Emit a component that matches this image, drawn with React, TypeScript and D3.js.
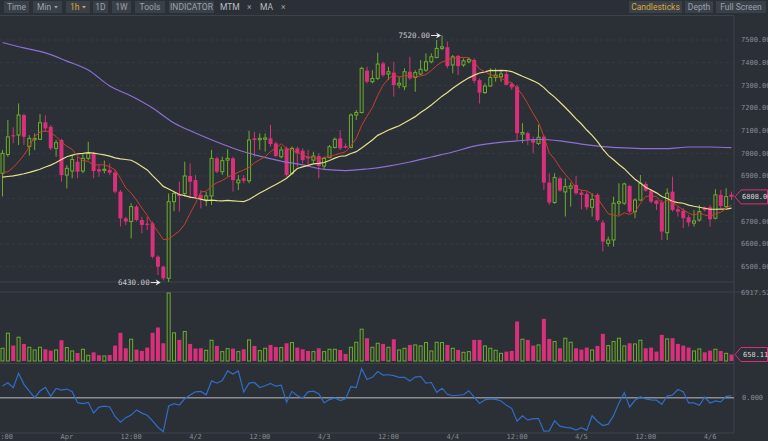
import React from 'react';
import * as d3 from 'd3';

const opens = [6912,6995,7080,7081,7169,7030,7060,7062,7137,7117,7022,7059,6904,6922,6963,6922,6978,7000,6930,6925,6927,6915,6831,6713,6699,6765,6706,6690,6691,6544,6500,6449,6787,6820,6823,6900,6882,6816,6797,6812,6978,6919,6970,6978,6870,6890,6879,7066,7060,7062,7066,7044,6985,7022,6912,7022,7012,6985,6970,6988,6944,6982,7026,7066,7032,7026,7169,7180,7365,7316,7331,7397,7350,7356,7301,7294,7360,7335,7350,7367,7404,7423,7463,7468,7390,7430,7390,7404,7412,7323,7268,7297,7335,7338,7350,7306,7294,7085,7089,7062,7044,7074,6871,6783,6890,6830,6846,6861,6827,6821,6762,6817,6695,6603,6618,6780,6780,6856,6743,6794,6865,6836,6792,6783,6650,6831,6753,6747,6718,6692,6706,6761,6762,6714,6817,6765,6818];
const highs = [7015,7147,7115,7220,7175,7080,7088,7173,7168,7125,7059,7065,6948,6993,6985,7000,7051,7007,6948,6968,6956,6927,6838,6720,6780,6772,6720,6720,6699,6550,6505,6823,6830,6875,6963,6956,6904,6838,6830,7015,6985,6985,7018,6985,6904,6904,7100,7095,7088,7088,7125,7051,7030,7030,7030,7030,7022,7015,7007,7000,6985,7037,7070,7103,7044,7176,7191,7382,7382,7367,7444,7404,7382,7404,7338,7375,7426,7367,7411,7441,7441,7500,7520,7493,7434,7434,7419,7423,7419,7330,7309,7375,7375,7367,7367,7312,7302,7133,7096,7074,7125,7081,6912,6912,6897,6890,6871,6900,6839,6831,6824,6824,6706,6633,6809,6868,6871,6861,6802,6905,6875,6842,6795,6795,6846,6897,6765,6758,6728,6750,6772,6765,6772,6842,6839,6846,6831];
const lows = [6810,6985,7045,7037,7037,6990,7015,7058,7095,7015,6985,6875,6845,6890,6890,6912,6970,6890,6897,6912,6905,6823,6677,6684,6625,6700,6647,6662,6537,6463,6440,6430,6745,6743,6809,6801,6801,6757,6768,6772,6912,6905,6897,6831,6838,6868,6868,6985,7015,7008,7030,6985,6978,6897,6905,6941,6956,6949,6956,6890,6927,6978,7022,7015,7022,7022,7147,7176,7309,7309,7323,7338,7323,7250,7287,7279,7323,7272,7345,7360,7397,7419,7455,7375,7353,7345,7382,7397,7309,7220,7262,7294,7316,7316,7301,7280,7059,7045,7037,7000,7037,6839,6773,6777,6831,6721,6765,6817,6753,6750,6721,6699,6567,6589,6589,6728,6773,6736,6714,6791,6831,6780,6750,6618,6618,6743,6721,6670,6677,6677,6699,6743,6677,6709,6758,6758,6794];
const closes = [7000,7073,7075,7169,7073,7066,7066,7135,7110,7022,7047,6904,6934,6973,6919,6978,7000,6922,6920,6930,6915,6831,6713,6699,6765,6706,6684,6688,6544,6500,6449,6787,6823,6812,6900,6875,6809,6801,6812,6978,6919,6968,6978,6882,6882,6879,7059,7059,7066,7068,7041,6988,7015,6905,7022,7000,6970,6978,6988,6944,6978,7029,7062,7022,7025,7169,7180,7375,7316,7330,7394,7345,7360,7301,7309,7360,7331,7356,7371,7404,7426,7463,7470,7385,7426,7385,7408,7414,7320,7268,7297,7335,7345,7350,7302,7291,7089,7092,7062,7047,7071,6871,6783,6893,6836,6853,6856,6824,6817,6762,6797,6706,6611,6618,6780,6787,6865,6743,6794,6868,6836,6787,6777,6655,6824,6750,6743,6714,6695,6702,6743,6750,6709,6817,6768,6809,6808];
const volumes = [1295,2829,1568,2420,1738,1397,1125,1397,1193,1056,1125,2113,1363,1022,818,1193,579,886,579,511,613,1568,2863,1295,2215,1159,1022,1363,2863,3408,1806,6917.52,2863,2147,2999,1738,1261,1295,1091,2113,1534,954,1261,1261,954,1193,2147,1534,1056,1295,1636,1431,1363,1806,1874,1363,1193,1022,954,1295,954,1193,1193,1125,716,1397,1908,3238,2317,1397,1806,1738,1397,2215,1125,1295,1636,1636,1534,1874,1022,1908,1874,1636,1295,1125,886,954,2147,2147,1534,1295,1091,784,954,1022,4021,2215,2147,1568,1636,4294,2249,1977,1295,2317,1908,1295,1159,1363,1125,1534,2761,1568,1977,2317,1534,1806,1738,2113,1295,1363,954,2658,2249,2317,1738,1568,1363,1022,1227,886,1056,1193,1022,784,658.11];
const ma7Lead = [6915,6919,6938,6963,6993,7029];
const ma25Lead = [6895,6898,6901,6905,6910,6916,6923,6930,6940,6948,6960,6973,6985,6992,6998,7000,7003,7001,6997,6993,6988,6980,6976,6973];
const ma99Every4 = [7489,7465,7443,7407,7368,7297,7253,7200,7134,7090,7050,7015,6988,6966,6949,6929,6924,6931,6944,6962,6984,7006,7032,7046,7055,7061,7055,7041,7030,7024,7021,7021,7028,7028,7025];
const mtmLead = [189,243,162,395,216,108,0,108,168,22,151,124,140,97];
const priceTicks = [6500,6600,6700,6800,6900,7000,7100,7200,7300,7400,7500];
const volumeMax = 6917.52;
const startTime = new Date(2018, 2, 31, 12);
const highMark = { i: 82, label: '7520.00' };
const lowMark = { i: 31, label: '6430.00' };
const leftButtons = [
  { label: 'Time', x: 4, w: 25 },
  { label: 'Min', x: 33, w: 29, caret: true },
  { label: '1h', x: 66, w: 24, caret: true, active: true },
  { label: '1D', x: 93, w: 15 },
  { label: '1W', x: 112, w: 19 },
  { label: 'Tools', x: 135, w: 30 },
  { label: 'INDICATOR', x: 169, w: 45 },
];
const rightButtons = [
  { label: 'Candlesticks', x: 629, w: 53, active: true },
  { label: 'Depth', x: 685, w: 28 },
  { label: 'Full Screen', x: 716, w: 50 },
];

const BG = '#2b2f36';
const GREEN = '#6cae2c';
const PINK = '#d9307c';
const AXIS = '#868c95';
const MONO = '"DejaVu Sans Mono", monospace';
const SANS = 'Roboto, "Noto Sans", sans-serif';
const RIGHT = 734;

export default function App() {
  const n = closes.length;
  const times = closes.map((_, i) => new Date(startTime.getTime() + i * 3600e3));
  const x = d3.scaleTime().domain([times[0], times[n - 1]]).range([2.5, 731.5]);
  const y = d3.scaleLinear().domain([6500, 7500]).range([266.7, 40]);
  const yv = d3.scaleLinear().domain([0, volumeMax]).range([361, 293]);
  const ym = d3.scaleLinear().domain([-572, 530]).range([433, 365]);

  const ma7 = closes.map((c, i) => (i < 6 ? ma7Lead[i] : d3.mean(closes.slice(i - 6, i + 1)) as number));
  const ma25 = closes.map((c, i) => (i < 24 ? ma25Lead[i] : d3.mean(closes.slice(i - 24, i + 1)) as number));
  const mtm = closes.map((c, i) => (i < 14 ? mtmLead[i] : c - closes[i - 14]));

  const lineP = d3.line<number>().x((_, i) => x(times[i])).y((v) => y(v));
  const ma99Line = d3
    .line<number>()
    .x((_, k) => x(times[k * 4]))
    .y((v) => y(v))
    .curve(d3.curveMonotoneX);
  const mtmLine = d3.line<number>().x((_, i) => x(times[i])).y((v) => ym(v));

  const ticks = d3.timeHour.every(12)!.range(times[0], new Date(times[n - 1].getTime() + 1));
  const fmt = (d: Date) =>
    d.getHours() === 12 ? '12:00' : d.getDate() === 1 ? 'Apr' : `${d.getMonth() + 1}/${d.getDate()}`;

  const bw = 4;
  const hx = x(times[highMark.i]);
  const hy = y(highs[highMark.i]);
  const lx = x(times[lowMark.i]);
  const ly = y(lows[lowMark.i]);
  const lastC = closes[n - 1];
  const lastV = volumes[n - 1];

  const arrow = (tipX: number, yy: number) => (
    <g>
      <line x1={tipX - 10} x2={tipX - 3} y1={yy} y2={yy} stroke="#e8e8e8" strokeWidth={1} />
      <path d={`M${tipX},${yy} L${tipX - 5},${yy - 3} L${tipX - 3.5},${yy} L${tipX - 5},${yy + 3} Z`} fill="#e8e8e8" />
    </g>
  );

  const button = (b: any) => (
    <g key={b.label}>
      <rect x={b.x} y={1} width={b.w} height={12} fill="#3a4049" />
      <text
        x={b.caret ? b.x + 4 : b.x + b.w / 2}
        y={10}
        textAnchor={b.caret ? 'start' : 'middle'}
        fontFamily={SANS}
        fontSize={8.5}
        fill={b.active ? '#d9a93a' : '#9ba2ac'}
      >
        {b.label}
      </text>
      {b.caret && (
        <path d={`M${b.x + b.w - 8},6 L${b.x + b.w - 4},6 L${b.x + b.w - 6},8.5 Z`} fill={b.active ? '#d9a93a' : '#9ba2ac'} />
      )}
    </g>
  );

  return (
    <svg width={768} height={441} style={{ position: 'absolute', left: 0, top: 0, background: BG }}>
      <rect x={0} y={0} width={768} height={441} fill={BG} />
      <defs>
        <clipPath id="mainClip">
          <rect x={0} y={16} width={RIGHT} height={266} />
        </clipPath>
        <clipPath id="mtmClip">
          <rect x={0} y={364} width={RIGHT} height={69} />
        </clipPath>
      </defs>

      {/* toolbar */}
      {leftButtons.map(button)}
      <text x={220} y={10} fontFamily={SANS} fontSize={8.5} fill="#b7bdc5">MTM</text>
      <text x={247} y={10} fontFamily={SANS} fontSize={8.5} fill="#9ba2ac">×</text>
      <text x={260} y={10} fontFamily={SANS} fontSize={8.5} fill="#b7bdc5">MA</text>
      <text x={281} y={10} fontFamily={SANS} fontSize={8.5} fill="#9ba2ac">×</text>
      {rightButtons.map(button)}

      {/* pane frames */}
      <line x1={0} x2={RIGHT} y1={15.5} y2={15.5} stroke="#3d434c" />
      <line x1={0} x2={RIGHT} y1={282} y2={282} stroke="#3d434c" />
      <line x1={0} x2={768} y1={292} y2={292} stroke="#3d434c" />
      <line x1={0} x2={RIGHT} y1={363.5} y2={363.5} stroke="#3d434c" />
      <line x1={0} x2={RIGHT} y1={433} y2={433} stroke="#3d434c" />
      <line x1={RIGHT} x2={RIGHT} y1={15.5} y2={433} stroke="#3d434c" />

      {/* grid + price axis */}
      {priceTicks.map((p) => (
        <g key={p}>
          <line x1={0} x2={RIGHT} y1={y(p)} y2={y(p)} stroke="#363b43" strokeDasharray="3,3" />
          <text x={741} y={y(p)} dy="0.35em" fontFamily={MONO} fontSize={7} fill={AXIS}>
            {p.toFixed(2)}
          </text>
        </g>
      ))}

      {/* candles */}
      <g clipPath="url(#mainClip)">
        {closes.map((c, i) => {
          const cx = x(times[i]);
          const up = c >= opens[i];
          const top = y(Math.max(c, opens[i]));
          const bot = y(Math.min(c, opens[i]));
          const col = up ? GREEN : PINK;
          return (
            <g key={i}>
              {up ? (
                <>
                  <line x1={cx} x2={cx} y1={y(highs[i])} y2={top} stroke={col} />
                  <line x1={cx} x2={cx} y1={bot} y2={y(lows[i])} stroke={col} />
                  <rect x={cx - bw / 2 + 0.5} y={top} width={bw - 1} height={Math.max(bot - top, 1)} fill={BG} stroke={col} strokeWidth={1} />
                </>
              ) : (
                <>
                  <line x1={cx} x2={cx} y1={y(highs[i])} y2={y(lows[i])} stroke={col} />
                  <rect x={cx - bw / 2} y={top} width={bw} height={Math.max(bot - top, 1.2)} fill={col} />
                </>
              )}
            </g>
          );
        })}
        <path d={ma99Line(ma99Every4) || ''} fill="none" stroke="#8e6fd4" strokeWidth={1.2} />
        <path d={lineP(ma25) || ''} fill="none" stroke="#e7e08c" strokeWidth={1.2} />
        <path d={lineP(ma7) || ''} fill="none" stroke="#c8402a" strokeWidth={1} />
      </g>

      {/* high / low annotations */}
      <text x={hx - 12} y={hy} dy="0.35em" textAnchor="end" fontFamily={MONO} fontSize={7.5} fill="#c9cdd2">
        {highMark.label}
      </text>
      {arrow(hx - 1, hy)}
      <text x={lx - 19} y={ly} dy="0.35em" textAnchor="end" fontFamily={MONO} fontSize={7.5} fill="#c9cdd2">
        {lowMark.label}
      </text>
      {arrow(lx - 8, ly)}

      {/* last price tag */}
      <path
        d={`M${RIGHT + 1},${y(lastC)} L${RIGHT + 7},${y(lastC) - 7} L767.5,${y(lastC) - 7} L767.5,${y(lastC) + 7} L${RIGHT + 7},${y(lastC) + 7} Z`}
        fill={BG}
        stroke={PINK}
      />
      <text x={742} y={y(lastC)} dy="0.35em" fontFamily={MONO} fontSize={7} fill="#d5d8dc">
        {lastC.toFixed(2)}
      </text>

      {/* volume */}
      {volumes.map((v, i) => {
        const cx = x(times[i]);
        const up = closes[i] >= opens[i];
        const top = yv(v);
        return up ? (
          <rect key={i} x={cx - bw / 2 + 0.5} y={top} width={bw - 1} height={yv(0) - top} fill={BG} stroke={GREEN} />
        ) : (
          <rect key={i} x={cx - bw / 2} y={top} width={bw} height={yv(0) - top} fill={PINK} />
        );
      })}
      <text x={741} y={yv(volumeMax)} dy="0.35em" fontFamily={MONO} fontSize={7} fill={AXIS}>
        {volumeMax.toFixed(2)}
      </text>
      <path
        d={`M${RIGHT + 1},${yv(lastV)} L${RIGHT + 7},${yv(lastV) - 7} L767.5,${yv(lastV) - 7} L767.5,${yv(lastV) + 7} L${RIGHT + 7},${yv(lastV) + 7} Z`}
        fill={BG}
        stroke={PINK}
      />
      <text x={743} y={yv(lastV)} dy="0.35em" fontFamily={MONO} fontSize={7} fill="#d5d8dc">
        {lastV.toFixed(2)}
      </text>

      {/* MTM */}
      <line x1={0} x2={RIGHT} y1={ym(0)} y2={ym(0)} stroke="#8a8d92" strokeWidth={1.5} />
      <g clipPath="url(#mtmClip)">
        <path d={mtmLine(mtm) || ''} fill="none" stroke="#2f6ec6" strokeWidth={1.2} />
      </g>
      <text x={742} y={ym(0)} dy="0.35em" fontFamily={MONO} fontSize={7} fill={AXIS}>
        0.000
      </text>

      {/* time axis */}
      {ticks.map((t) => (
        <text key={t.getTime()} x={x(t)} y={437} dy="0.35em" textAnchor="middle" fontFamily={MONO} fontSize={7} fill={AXIS}>
          {fmt(t)}
        </text>
      ))}
    </svg>
  );
}
